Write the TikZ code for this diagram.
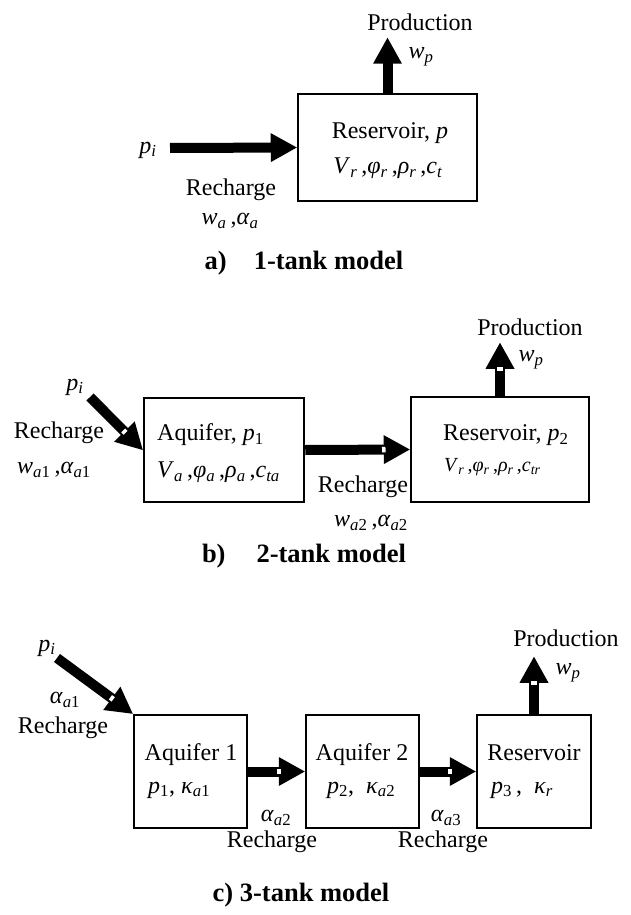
\documentclass[tikz,border=0pt]{standalone}
\usepackage{fontspec}
\setmainfont{Liberation Serif}
\usetikzlibrary{calc}
\newcommand\iv[1]{\textit{#1}}
\newcommand\sbs[1]{\textsubscript{#1}}
\newcommand\blkarr[2]{%
  \draw[shaft] (#1) -- ($(#2)!25pt!(#1)$);
  \fill ($(#2)!26pt!(#1)!14.5pt!90:(#2)$) -- (#2) -- ($(#2)!26pt!(#1)!14.5pt!-90:(#2)$) -- cycle;}
\newcommand\blkarrn[2]{\blkarr{#1}{#2}%
  \path (#1) -- ($(#2)!26pt!(#1)$) node[pos=1,sloped,allow upside down,notch]{};}
\tikzset{
  tank/.style={draw, line width=2.5pt, inner sep=0pt},
  lbl/.style={font=\fontsize{24}{28}\selectfont, inner sep=0pt},
  smalllbl/.style={font=\fontsize{20}{24}\selectfont, inner sep=0pt},
  captxt/.style={font=\fontsize{26.5}{30}\selectfont\bfseries, inner sep=0pt},
  shaft/.style={line width=10pt},
  notch/.style={fill=white, minimum width=3.5pt, minimum height=5.5pt, inner sep=0pt},
}
\begin{document}
\begin{tikzpicture}[x=1pt,y=-1pt]
\useasboundingbox[fill=white] (0,0) rectangle (630,915);
% ---------- a) 1-tank ----------
\node[tank, minimum width=179pt, minimum height=107pt] (resa) at (387.5,147.5) {};
\coordinate (ta) at (170,148);
\coordinate (pa) at ($(resa.north)+(0,-55)$);
\blkarr{ta}{resa.west}
\blkarr{resa.north}{pa}
\node[lbl] (proda) at (420,22) {Production};
\node[lbl] (wpa) at (421,57) {\iv{w}\sbs{\iv{p}}};
\node[lbl] (pia) at (148,150) {\iv{p}\sbs{\iv{i}}};
\node[lbl] (rca) at (231,190) {Recharge};
\node[lbl] (waa) at (230,221) {\iv{w}\sbs{\iv{a}}\,,\iv{α}\sbs{\iv{a}}};
\node[lbl] (resat) at (390,133) {Reservoir, \iv{p}};
\node[lbl] (resap) at (388,168) {\iv{V}\sbs{\iv{r}}\,,\iv{φ}\sbs{\iv{r}}\,,\iv{ρ}\sbs{\iv{r}}\,,\iv{c}\sbs{\iv{t}}};
\node[captxt] (capa) at (304,263) {a)\hspace{27pt}1-tank model};
% ---------- b) 2-tank ----------
\node[tank, minimum width=160pt, minimum height=104pt] (aqb) at (224,450) {};
\node[tank, minimum width=178pt, minimum height=105pt] (resb) at (500,449.5) {};
\coordinate (tb) at (90,397);
\coordinate (pb) at ($(resb.north)+(0,-53)$);
\blkarrn{tb}{aqb.west}
\blkarrn{aqb.east}{resb.west}
\blkarrn{resb.north}{pb}
\node[lbl] (pib) at (75,387) {\iv{p}\sbs{\iv{i}}};
\node[lbl] (rcb1) at (59,433) {Recharge};
\node[lbl] (wab1) at (54,470) {\iv{w}\sbs{\iv{a}1}\,,\iv{α}\sbs{\iv{a}1}};
\node[lbl, anchor=west] (aqbt) at (157,435) {Aquifer, \iv{p}\sbs{1}};
\node[lbl, anchor=west] (aqbp) at (157,472) {\iv{V}\sbs{\iv{a}}\,,\iv{φ}\sbs{\iv{a}}\,,\iv{ρ}\sbs{\iv{a}}\,,\iv{c}\sbs{\iv{ta}}};
\node[lbl] (prodb) at (530,327) {Production};
\node[lbl] (wpb) at (531,360) {\iv{w}\sbs{\iv{p}}};
\node[lbl, anchor=west] (resbt) at (443,435) {Reservoir, \iv{p}\sbs{2}};
\node[smalllbl, anchor=west] (resbp) at (444,467) {\iv{V}\sbs{\iv{r}}\,,\iv{φ}\sbs{\iv{r}}\,,\iv{ρ}\sbs{\iv{r}}\,,\iv{c}\sbs{\iv{tr}}};
\node[lbl] (rcb2) at (363,487) {Recharge};
\node[lbl] (wab2) at (371,523) {\iv{w}\sbs{\iv{a}2}\,,\iv{α}\sbs{\iv{a}2}};
\node[captxt] (capb) at (304,556) {b)\hspace{31pt}2-tank model};
% ---------- c) 3-tank ----------
\node[tank, minimum width=113pt, minimum height=113pt] (aq1) at (190.5,771.5) {};
\node[tank, minimum width=113pt, minimum height=113pt] (aq2) at (362.5,771.5) {};
\node[tank, minimum width=114pt, minimum height=113pt] (resc) at (534,771.5) {};
\coordinate (tc) at (57,658);
\coordinate (pc) at ($(resc.north)+(0,-57)$);
\blkarrn{tc}{aq1.north west}
\blkarrn{aq1.east}{aq2.west}
\blkarrn{aq2.east}{resc.west}
\blkarrn{resc.north}{pc}
\node[lbl] (pic) at (47,648) {\iv{p}\sbs{\iv{i}}};
\node[lbl] (ac1) at (65,700) {\iv{α}\sbs{\iv{a}1}};
\node[lbl] (rcc1) at (63,728) {Recharge};
\node[lbl] (aq1t) at (191,755) {Aquifer 1};
\node[lbl, anchor=west] (aq1p) at (148,790) {\iv{p}\sbs{1},\hspace{6pt}\iv{κ}\sbs{\iv{a}1}};
\node[lbl] (ac2) at (276,818) {\iv{α}\sbs{\iv{a}2}};
\node[lbl] (rcc2) at (272,842) {Recharge};
\node[lbl] (aq2t) at (362,755) {Aquifer 2};
\node[lbl, anchor=west] (aq2p) at (327,790) {\iv{p}\sbs{2},\hspace{12pt}\iv{κ}\sbs{\iv{a}2}};
\node[lbl] (ac3) at (446,818) {\iv{α}\sbs{\iv{a}3}};
\node[lbl] (rcc3) at (443,842) {Recharge};
\node[lbl] (resct) at (534,753) {Reservoir};
\node[lbl, anchor=west] (rescp) at (491,790) {\iv{p}\sbs{3}\,,\hspace{12pt}\iv{κ}\sbs{\iv{r}}};
\node[lbl] (prodc) at (566,638) {Production};
\node[lbl] (wpc) at (568,673) {\iv{w}\sbs{\iv{p}}};
\node[captxt] (capc) at (301,895) {c) 3-tank model};
\end{tikzpicture}
\end{document}
